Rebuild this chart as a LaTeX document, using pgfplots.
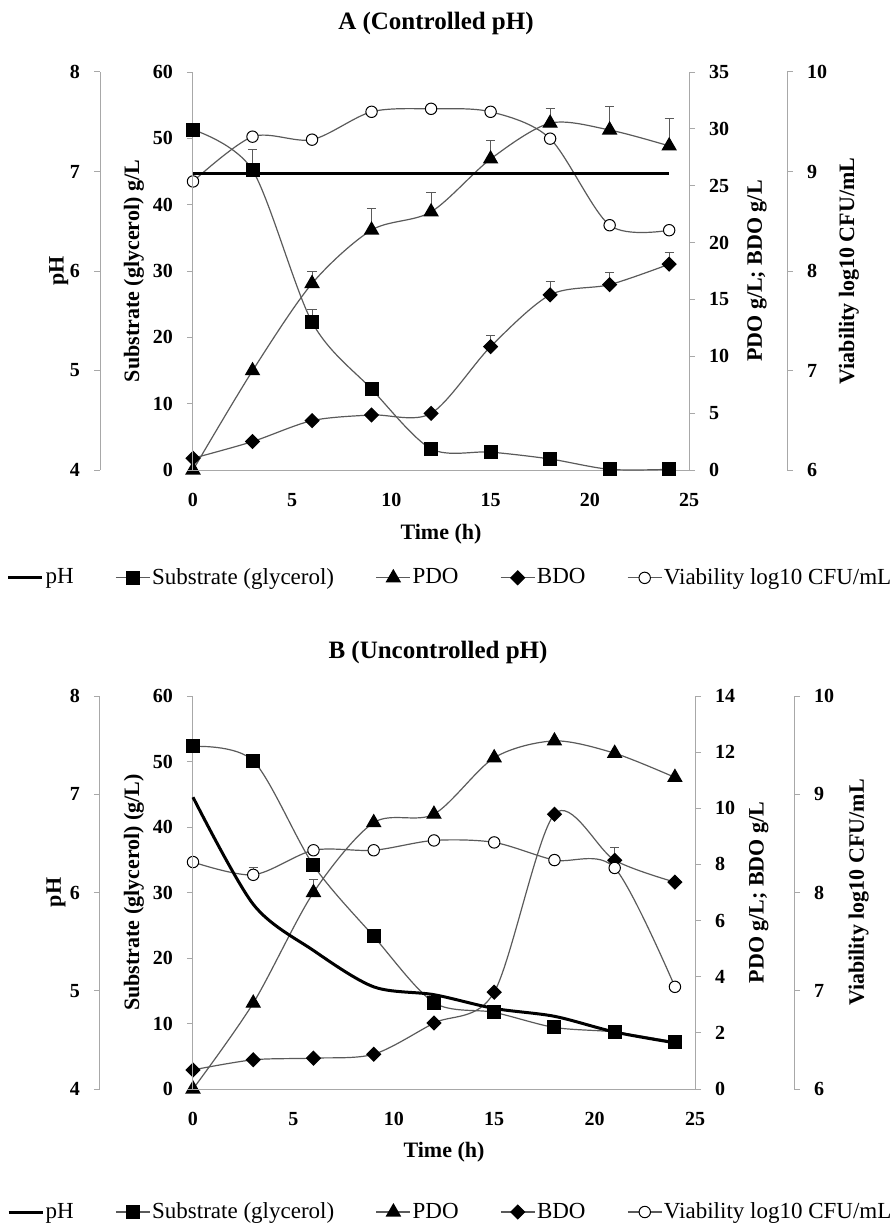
\documentclass[border=0pt]{standalone}
\usepackage{fontspec}
\setmainfont{Liberation Serif}
\usepackage{pgfplots}
\pgfplotsset{compat=1.18}

\definecolor{axgray}{HTML}{A8A8A8}
\definecolor{lngray}{HTML}{5A5A5A}

\pgfplotsset{
  base/.style={
    scale only axis, xmin=0, xmax=25, clip=false,
    axis line style={axgray, line width=0.5pt},
    tick style={axgray, line width=0.5pt},
    tick align=outside, major tick length=3pt,
    /pgf/number format/assume math mode=true,
    tick label style={font=\bfseries\fontsize{10}{12}\selectfont},
    label style={font=\bfseries\fontsize{11}{13}\selectfont},
    yticklabel shift=3.5pt,
  },
  ser/.style={lngray, line width=0.6pt, smooth},
  msq/.style={mark=square*, mark size=3.2pt, mark options={fill=black, draw=black, rotate=0}},
  mtri/.style={mark=triangle*, mark size=3.9pt, mark options={fill=black, draw=black}},
  mdia/.style={mark=square*, mark size=2.4pt, mark options={fill=black, draw=black, rotate=45}},
  mcirc/.style={mark=*, mark size=2.85pt, mark options={fill=white, draw=black, line width=0.5pt}},
  ebar/.style={
    /pgfplots/error bars/y dir=plus, /pgfplots/error bars/y explicit,
    /pgfplots/error bars/error bar style={lngray, line width=0.5pt},
    /pgfplots/error bars/error mark options={rotate=90, mark size=2.3pt, lngray, line width=0.5pt}},
  phline/.style={black, line width=1.5pt, smooth},
}

\begin{document}
\begin{tikzpicture}
\useasboundingbox (0pt,0pt) rectangle (446.5pt,-612.5pt);

% ================= Panel A =================
\node[font=\bfseries\fontsize{12.5}{15}\selectfont] at (218pt,-11.5pt) {A (Controlled pH)};

% pH scale
\begin{axis}[base, at={(50pt,-235pt)}, anchor=south west, width=248pt, height=199pt,
  axis x line=none, axis y line*=left, xtick=\empty,
  ymin=4, ymax=8, ytick={4,5,6,7,8},
  ylabel={pH}, ylabel style={at={(axis description cs:-0.083,0.5)}, anchor=center, rotate=0}]
\addplot[draw=none] coordinates {(0,4)};
\end{axis}

% viability scale
\begin{axis}[base, at={(145.5pt,-235pt)}, anchor=south west, width=248pt, height=199pt,
  axis x line=none, axis y line*=right, xtick=\empty,
  ymin=6, ymax=10, ytick={6,7,8,9,10},
  ylabel={Viability log10 CFU/mL}, ylabel style={at={(axis description cs:1.125,0.5)}, anchor=center, rotate=0}]
\addplot[draw=none] coordinates {(0,6)};
\end{axis}

% PDO / BDO
\begin{axis}[base, at={(96.5pt,-235pt)}, anchor=south west, width=248pt, height=199pt,
  axis x line=none, axis y line*=right, xtick=\empty,
  ymin=0, ymax=35, ytick={0,5,...,35},
  ylabel={PDO g/L; BDO g/L}, ylabel style={at={(axis description cs:1.137,0.5)}, anchor=center, rotate=0}]
\addplot[ser, mtri, ebar] coordinates {
  (0,0) (3,8.73) (6,16.4) +- (0,1.1) (9,21.1) +- (0,1.9) (12,22.7) +- (0,1.7)
  (15,27.35) +- (0,1.65) (18,30.5) +- (0,1.25) (21,29.9) +- (0,2.1) (24,28.5) +- (0,2.4)};
\addplot[ser, mdia, ebar] coordinates {
  (0,1.03) (3,2.5) (6,4.34) (9,4.84) (12,4.98)
  (15,10.85) +- (0,0.95) (18,15.4) +- (0,1.2) (21,16.3) +- (0,1.05) (24,18.1) +- (0,1.05)};
\end{axis}

% viability data
\begin{axis}[base, at={(96.5pt,-235pt)}, anchor=south west, width=248pt, height=199pt,
  hide axis, ymin=6, ymax=10]
\addplot[ser, mcirc] coordinates {
  (0,8.90) (3,9.35) (6,9.32) (9,9.60) (12,9.63) (15,9.60) (18,9.33) (21,8.46) (24,8.41)};
\end{axis}

% substrate (main axis, with x axis and legend)
\begin{axis}[base, at={(96.5pt,-235pt)}, anchor=south west, width=248pt, height=199pt,
  axis x line*=bottom, axis y line*=left,
  xtick={0,5,...,25}, xtick style={draw=none}, xticklabel shift=5pt,
  ymin=0, ymax=60, ytick={0,10,...,60},
  xlabel={Time (h)}, xlabel style={at={(axis description cs:0.5,-0.161)}, anchor=center},
  ylabel={Substrate (glycerol) g/L}, ylabel style={at={(axis description cs:-0.119,0.5)}, anchor=center, rotate=0},
  legend columns=5,
  legend style={at={(axis description cs:0.518,-0.271)}, anchor=center, draw=none, fill=none,
    font=\fontsize{11.5}{13}\selectfont, inner sep=0pt, nodes={inner sep=0.8pt},
    /tikz/every even column/.append style={column sep=20pt}},
  legend image code/.code={\draw[mark repeat=2,mark phase=2,#1] plot coordinates {(0pt,0pt) (8.5pt,0pt) (17pt,0pt)};}]
\addplot[ser, msq, forget plot, ebar] coordinates {
  (0,51.3) (3,45.2) +- (0,3.1) (6,22.3) +- (0,1.9) (9,12.2) (12,3.2) (15,2.7) (18,1.66) (21,0.1) (24,0.1)};
\addlegendimage{black, line width=1.5pt}
\addlegendentry{pH}
\addlegendimage{lngray, line width=0.6pt, msq}
\addlegendentry{Substrate (glycerol)}
\addlegendimage{lngray, line width=0.6pt, mtri}
\addlegendentry{PDO}
\addlegendimage{lngray, line width=0.6pt, mdia}
\addlegendentry{BDO}
\addlegendimage{lngray, line width=0.6pt, mcirc}
\addlegendentry{Viability log10 CFU/mL}
\end{axis}

% pH data
\begin{axis}[base, at={(96.5pt,-235pt)}, anchor=south west, width=248pt, height=199pt,
  hide axis, ymin=4, ymax=8]
\addplot[phline] coordinates {
  (0,6.98) (3,6.98) (6,6.98) (9,6.98) (12,6.98) (15,6.98) (18,6.98) (21,6.98) (24,6.98)};
\end{axis}

% ================= Panel B =================
\node[font=\bfseries\fontsize{12.5}{15}\selectfont] at (219pt,-326pt) {B (Uncontrolled pH)};

\begin{axis}[base, at={(50pt,-544.5pt)}, anchor=south west, width=251pt, height=196.5pt,
  axis x line=none, axis y line*=left, xtick=\empty,
  ymin=4, ymax=8, ytick={4,5,6,7,8},
  ylabel={pH}, ylabel style={at={(axis description cs:-0.0876,0.5)}, anchor=center, rotate=0}]
\addplot[draw=none] coordinates {(0,4)};
\end{axis}

\begin{axis}[base, at={(146pt,-544.5pt)}, anchor=south west, width=251pt, height=196.5pt,
  axis x line=none, axis y line*=right, xtick=\empty,
  ymin=6, ymax=10, ytick={6,7,8,9,10},
  ylabel={Viability log10 CFU/mL}, ylabel style={at={(axis description cs:1.129,0.5)}, anchor=center, rotate=0}]
\addplot[draw=none] coordinates {(0,6)};
\end{axis}

\begin{axis}[base, at={(96.5pt,-544.5pt)}, anchor=south west, width=251pt, height=196.5pt,
  axis x line=none, axis y line*=right, xtick=\empty,
  ymin=0, ymax=14, ytick={0,2,...,14},
  ylabel={PDO g/L; BDO g/L}, ylabel style={at={(axis description cs:1.127,0.5)}, anchor=center, rotate=0}]
\addplot[ser, mtri, ebar] coordinates {
  (0,0) (3,3.06) (6,7.0) +- (0,0.46) (9,9.49) (12,9.79) (15,11.8) (18,12.4) (21,11.96) (24,11.1)};
\addplot[ser, mdia, ebar] coordinates {
  (0,0.68) (3,1.04) (6,1.10) (9,1.24) (12,2.35) (15,3.45) (18,9.79) (21,8.15) +- (0,0.45) (24,7.37)};
\end{axis}

\begin{axis}[base, at={(96.5pt,-544.5pt)}, anchor=south west, width=251pt, height=196.5pt,
  hide axis, ymin=6, ymax=10]
\addplot[ser, mcirc, ebar] coordinates {
  (0,8.31) (3,8.18) +- (0,0.07) (6,8.43) (9,8.43) (12,8.53) (15,8.51) (18,8.33) (21,8.25) (24,7.04)};
\end{axis}

\begin{axis}[base, at={(96.5pt,-544.5pt)}, anchor=south west, width=251pt, height=196.5pt,
  axis x line*=bottom, axis y line*=left,
  xtick={0,5,...,25}, xtick style={draw=none}, xticklabel shift=5pt,
  ymin=0, ymax=60, ytick={0,10,...,60},
  xlabel={Time (h)}, xlabel style={at={(axis description cs:0.5,-0.160)}, anchor=center},
  ylabel={Substrate (glycerol) (g/L)}, ylabel style={at={(axis description cs:-0.1175,0.5)}, anchor=center, rotate=0},
  legend columns=5,
  legend style={at={(axis description cs:0.512,-0.313)}, anchor=center, draw=none, fill=none,
    font=\fontsize{11.5}{13}\selectfont, inner sep=0pt, nodes={inner sep=0.8pt},
    /tikz/every even column/.append style={column sep=20pt}},
  legend image code/.code={\draw[mark repeat=2,mark phase=2,#1] plot coordinates {(0pt,0pt) (8.5pt,0pt) (17pt,0pt)};}]
\addplot[ser, msq, forget plot] coordinates {
  (0,52.3) (3,50.1) (6,34.15) (9,23.3) (12,13.2) (15,11.7) (18,9.4) (21,8.7) (24,7.2)};
\addlegendimage{black, line width=1.5pt}
\addlegendentry{pH}
\addlegendimage{lngray, line width=0.6pt, msq}
\addlegendentry{Substrate (glycerol)}
\addlegendimage{lngray, line width=0.6pt, mtri}
\addlegendentry{PDO}
\addlegendimage{lngray, line width=0.6pt, mdia}
\addlegendentry{BDO}
\addlegendimage{lngray, line width=0.6pt, mcirc}
\addlegendentry{Viability log10 CFU/mL}
\end{axis}

\begin{axis}[base, at={(96.5pt,-544.5pt)}, anchor=south west, width=251pt, height=196.5pt,
  hide axis, ymin=4, ymax=8]
\addplot[phline] coordinates {
  (0,6.97) (3,5.88) (6,5.41) (9,5.04) (12,4.96) (15,4.82) (18,4.74) (21,4.58) (24,4.47)};
\end{axis}

\end{tikzpicture}
\end{document}
